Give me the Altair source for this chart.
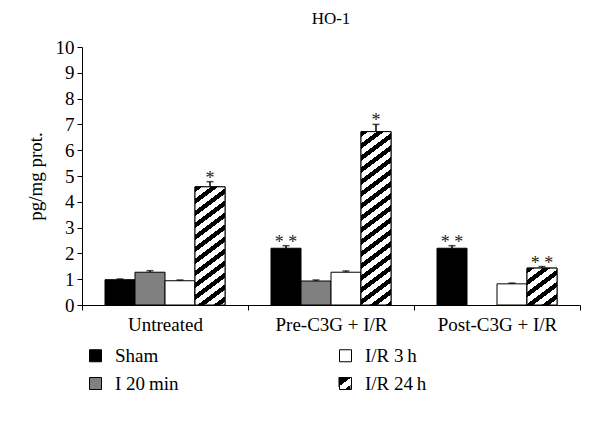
import altair as alt
import pandas as pd

groups = ["Untreated", "Pre-C3G + I/R", "Post-C3G + I/R"]
series = ["Sham", "I 20\u2009min", "I/R 3\u2009h", "I/R 24\u2009h"]

sham = [0.98, 2.20, 2.20]
i20 = [1.27, 0.93, 0.0]
ir3 = [0.94, 1.27, 0.82]
ir24 = [4.58, 6.72, 1.43]

sham_err = [0.03, 0.10, 0.10]
i20_err = [0.06, 0.04, 0.0]
ir3_err = [0.03, 0.05, 0.03]
ir24_err = [0.20, 0.28, 0.06]

sham_sig = ["", "* *", "* *"]
i20_sig = ["", "", ""]
ir3_sig = ["", "", ""]
ir24_sig = ["*", "*", "* *"]

y_ticks = list(range(0, 11))

rows = []
for s, vals, errs, sigs in [
    (series[0], sham, sham_err, sham_sig),
    (series[1], i20, i20_err, i20_sig),
    (series[2], ir3, ir3_err, ir3_sig),
    (series[3], ir24, ir24_err, ir24_sig),
]:
    for g, v, e, sg in zip(groups, vals, errs, sigs):
        rows.append({"group": g, "series": s, "value": v, "err": e,
                     "top": v + e, "sig": sg})
df = pd.DataFrame(rows)

FONT = "Liberation Serif"
FS = 19
W_VIEW, H_VIEW = 498, 258
YMAX = 10
band = W_VIEW / len(groups)
bar_w = 30.0
pad_outer = (band / bar_w - len(series)) / 2

x_axis = alt.Axis(title=None, labelAngle=0, tickBand="extent", ticks=True,
                  tickSize=5, labelPadding=5, labelFont=FONT, labelFontSize=FS,
                  labelColor="black", domainColor="black", tickColor="black")
y_axis = alt.Axis(title="pg/mg prot.", values=y_ticks, tickSize=5, labelOverlap=False,
                  labelPadding=3, titlePadding=10, titleFontWeight="normal",
                  labelFont=FONT, titleFont=FONT, labelFontSize=FS, titleFontSize=FS,
                  labelColor="black", titleColor="black", domainColor="black",
                  tickColor="black")
x_enc = alt.X("group:N", sort=groups, scale=alt.Scale(paddingInner=0, paddingOuter=0),
              axis=x_axis)
xo_enc = alt.XOffset("series:N", scale=alt.Scale(domain=series, paddingInner=0,
                                                 paddingOuter=pad_outer))
y_scale = alt.Scale(domain=[0, YMAX], nice=False)


def y_enc(field):
    return alt.Y(field, type="quantitative", scale=y_scale, axis=y_axis)


color_range = ["#000000", "#808080", "#ffffff", "rgba(255,255,255,0)"]

LEG_X, LEG_Y = 4, 299
SYM = 12

base = alt.Chart(df)

bars = base.transform_filter("datum.value > 0").mark_bar(
    stroke="black", strokeWidth=1
).encode(
    x=x_enc,
    xOffset=xo_enc,
    y=y_enc("value"),
    color=alt.Color("series:N", scale=alt.Scale(domain=series, range=color_range),
                    legend=alt.Legend(title=None, orient="none", legendX=LEG_X,
                                      legendY=LEG_Y, padding=0, columns=2,
                                      columnPadding=157, rowPadding=8,
                                      symbolType="square", symbolSize=SYM * SYM,
                                      symbolStrokeColor="black", symbolStrokeWidth=1,
                                      labelOffset=10, labelFont=FONT, labelFontSize=FS,
                                      labelColor="black")),
)


def hatch(width, height, period=12.0, frac=0.45, k=0.75, phase=0.0):
    total = k * width + height
    c = total / (k * k * width * width + height * height)
    stops = []
    n = int(total / period) + 3
    for j in range(n):
        s0 = (j * period - phase) / total
        s1 = (j * period + frac * period - phase) / total
        s2 = ((j + 1) * period - phase) / total
        if s0 > 1:
            break
        stops += [alt.GradientStop(offset=min(max(s0, 0), 1), color="black"),
                  alt.GradientStop(offset=min(max(s1, 0), 1), color="black"),
                  alt.GradientStop(offset=min(max(s1, 0), 1), color="white"),
                  alt.GradientStop(offset=min(max(s2, 0), 1), color="white")]
    return alt.LinearGradient(gradient="linear", stops=stops, x1=0, y1=0,
                              x2=c * k * width, y2=c * height)


hatched_layers = []
for g, v in zip(groups, ir24):
    h = v / YMAX * H_VIEW
    hatched_layers.append(
        base.transform_filter(
            (alt.datum.group == g) & (alt.datum.series == series[3])
        ).mark_bar(fill=hatch(bar_w, h), stroke="black", strokeWidth=1).encode(
            x=x_enc, xOffset=xo_enc, y=y_enc("value")
        )
    )

err_rule = base.transform_filter("datum.err > 0").mark_rule(
    color="black", strokeWidth=1.5
).encode(x=x_enc, xOffset=xo_enc, y=y_enc("value"), y2="top:Q")

err_cap = base.transform_filter("datum.err > 0").mark_tick(
    color="black", size=7, thickness=1.5
).encode(x=x_enc, xOffset=xo_enc, y=y_enc("top"))

sig_text = base.transform_filter("datum.sig != ''").mark_text(
    font=FONT, fontSize=18, baseline="alphabetic", dy=2, color="#222222"
).encode(x=x_enc, xOffset=xo_enc, y=y_enc("top"), text="sig:N")

# hatched swatch drawn beneath the (transparent) legend symbol of "I/R 24 h"
legend_hatch = base.transform_filter(
    (alt.datum.group == groups[0]) & (alt.datum.series == series[3])
).mark_square(
    size=SYM * SYM, fill=hatch(SYM, SYM, period=14.0, frac=0.5, phase=-3.0),
    fillOpacity=1, strokeWidth=0, opacity=1
).encode(x=alt.value(262.5), y=alt.value(336))

chart = alt.layer(bars, *hatched_layers, err_rule, err_cap, sig_text,
                  legend_hatch).properties(
    width=W_VIEW, height=H_VIEW,
    title=alt.TitleParams("HO-1", font=FONT, fontSize=17, fontWeight="normal",
                          anchor="middle", frame="group", offset=10, color="black"),
    autosize=alt.AutoSizeParams(type="none"),
    padding={"left": 74, "top": 39, "right": 12, "bottom": 130},
).configure(font=FONT).configure_view(stroke=None).configure_axis(
    grid=False, domainWidth=1
)

chart.save("out.html", embed_options={"renderer": "svg", "actions": False})
